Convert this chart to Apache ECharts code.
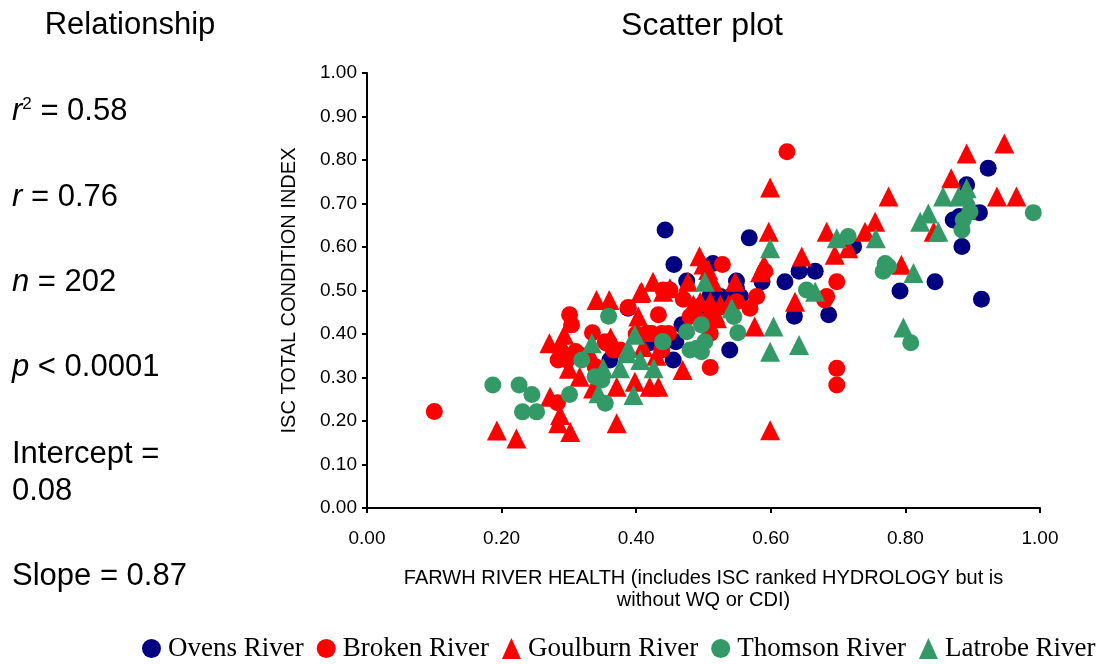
<!DOCTYPE html>
<html>
<head>
<meta charset="utf-8">
<script src="https://cdn.jsdelivr.net/npm/echarts@6/dist/echarts.min.js"></script>
<style>
html,body{margin:0;padding:0;background:#fff;}
#chart{width:1107px;height:664px;}
</style>
</head>
<body>
<div id="chart"></div>
<script>
const seriesNames = ["Ovens River", "Broken River", "Goulburn River", "Thomson River", "Latrobe River"];
const xTicks = ["0.00", "0.20", "0.40", "0.60", "0.80", "1.00"];
const yTicks = ["0.00", "0.10", "0.20", "0.30", "0.40", "0.50", "0.60", "0.70", "0.80", "0.90", "1.00"];

const ovens = [
  [0.443,0.639],[0.568,0.621],[0.456,0.560],[0.514,0.562],[0.475,0.522],[0.549,0.522],
  [0.587,0.520],[0.621,0.520],[0.642,0.544],[0.666,0.544],[0.525,0.486],[0.540,0.486],
  [0.555,0.486],[0.549,0.505],[0.923,0.781],[0.891,0.743],[0.910,0.679],[0.871,0.662],
  [0.884,0.601],[0.723,0.601],[0.844,0.520],[0.792,0.499],[0.913,0.480],[0.686,0.444],
  [0.635,0.441],[0.539,0.363],[0.388,0.459],[0.468,0.421],[0.455,0.340],[0.459,0.382],
  [0.361,0.340],[0.495,0.463],[0.510,0.490],[0.880,0.670],[0.500,0.420],[0.420,0.380]
];
const broken = [
  [0.100,0.222],[0.624,0.819],[0.528,0.560],[0.591,0.544],[0.698,0.520],[0.680,0.478],
  [0.683,0.486],[0.579,0.486],[0.440,0.501],[0.450,0.501],[0.698,0.321],[0.698,0.283],
  [0.510,0.323],[0.569,0.459],[0.480,0.440],[0.510,0.401],[0.433,0.444],[0.420,0.401],
  [0.438,0.363],[0.448,0.401],[0.388,0.461],[0.356,0.379],[0.366,0.363],[0.416,0.401],
  [0.549,0.474],[0.301,0.444],[0.304,0.421],[0.287,0.363],[0.284,0.340],[0.297,0.340],
  [0.283,0.242],[0.335,0.403],[0.354,0.382],[0.376,0.363],[0.339,0.325],[0.423,0.401],
  [0.438,0.401],[0.440,0.394],[0.360,0.380],[0.310,0.360],[0.320,0.350],[0.400,0.400],
  [0.470,0.480]
];
const goulburn = [
  [0.947,0.838],[0.891,0.815],[0.868,0.758],[0.775,0.716],[0.936,0.716],[0.965,0.716],
  [0.891,0.685],[0.842,0.635],[0.755,0.658],[0.740,0.635],[0.683,0.635],[0.715,0.597],
  [0.695,0.582],[0.794,0.559],[0.599,0.737],[0.597,0.635],[0.646,0.578],[0.494,0.579],
  [0.507,0.547],[0.477,0.520],[0.514,0.520],[0.547,0.520],[0.584,0.542],[0.408,0.497],
  [0.425,0.520],[0.599,0.179],[0.371,0.195],[0.576,0.417],[0.636,0.474],[0.469,0.317],
  [0.371,0.279],[0.420,0.279],[0.433,0.279],[0.398,0.290],[0.341,0.478],[0.360,0.478],
  [0.406,0.494],[0.450,0.505],[0.403,0.440],[0.193,0.178],[0.222,0.160],[0.272,0.256],
  [0.287,0.214],[0.284,0.195],[0.302,0.175],[0.271,0.379],[0.293,0.398],[0.316,0.302],
  [0.336,0.275],[0.485,0.467],[0.495,0.474],[0.510,0.474],[0.525,0.467],[0.537,0.467],
  [0.490,0.448],[0.517,0.448],[0.510,0.455],[0.520,0.436],[0.362,0.392],[0.410,0.370],
  [0.430,0.350],[0.300,0.320],[0.330,0.360],[0.500,0.560],[0.440,0.497],[0.590,0.560]
];
const thomson = [
  [0.990,0.679],[0.896,0.681],[0.886,0.662],[0.884,0.639],[0.715,0.624],[0.770,0.562],
  [0.767,0.544],[0.653,0.501],[0.808,0.380],[0.551,0.403],[0.545,0.440],[0.359,0.441],
  [0.440,0.382],[0.480,0.363],[0.497,0.359],[0.502,0.382],[0.497,0.421],[0.475,0.405],
  [0.354,0.241],[0.187,0.283],[0.226,0.283],[0.245,0.261],[0.231,0.221],[0.252,0.221],
  [0.301,0.261],[0.319,0.340],[0.339,0.302],[0.349,0.294],[0.439,0.382],[0.490,0.367],
  [0.775,0.555]
];
const latrobe = [
  [0.891,0.735],[0.856,0.716],[0.879,0.716],[0.822,0.658],[0.834,0.677],[0.849,0.635],
  [0.756,0.620],[0.698,0.620],[0.599,0.597],[0.502,0.520],[0.812,0.540],[0.797,0.415],
  [0.642,0.375],[0.599,0.359],[0.604,0.417],[0.542,0.459],[0.396,0.260],[0.388,0.367],
  [0.406,0.340],[0.426,0.321],[0.376,0.321],[0.351,0.321],[0.334,0.379],[0.386,0.356],
  [0.344,0.264],[0.398,0.398],[0.666,0.497],[0.890,0.720]
];

const seriesData = [ovens, broken, goulburn, thomson, latrobe];
const seriesColors = ["#000080", "#ff0000", "#ff0000", "#339966", "#339966"];
const seriesSymbols = ["circle", "circle", "triangle", "circle", "triangle"];

const chart = echarts.init(document.getElementById('chart'), null, {renderer: 'canvas'});
const sansFont = 'Liberation Sans, Arial, Helvetica, sans-serif';
const FS = 31;
const statStyle = {fontSize: FS, fontFamily: sansFont, fill: '#000'};
const ital = {fontStyle: 'italic', fontSize: FS, fontFamily: sansFont};

const option = {
  backgroundColor: '#fff',
  animation: false,
  title: [
    {text: 'Relationship', left: 125, top: 5, textAlign: 'center',
     textStyle: {fontSize: 31, fontWeight: 'normal', fontFamily: sansFont, color: '#000'}},
    {text: 'Scatter plot', left: 697, top: 5, textAlign: 'center',
     textStyle: {fontSize: 32, fontWeight: 'normal', fontFamily: sansFont, color: '#000'}}
  ],
  graphic: [
    {type: 'text', left: 12, top: 96, style: {
      text: '{i|r}{s|2} = 0.58', font: FS + 'px ' + sansFont, fill: '#000',
      rich: {i: ital, s: {fontSize: 17, fontFamily: sansFont, verticalAlign: 'top', padding: [0,0,12,0]}}}},
    {type: 'text', left: 12, top: 182, style: {
      text: '{i|r} = 0.76', font: FS + 'px ' + sansFont, fill: '#000', rich: {i: ital}}},
    {type: 'text', left: 12, top: 267, style: {
      text: '{i|n} = 202', font: FS + 'px ' + sansFont, fill: '#000', rich: {i: ital}}},
    {type: 'text', left: 12, top: 352, style: {
      text: '{i|p} < 0.0001', font: FS + 'px ' + sansFont, fill: '#000', rich: {i: ital}}},
    {type: 'text', left: 12, top: 436, style: Object.assign({text: 'Intercept =\n0.08', lineHeight: 37}, statStyle)},
    {type: 'text', left: 12, top: 561, style: Object.assign({text: 'Slope = 0.87'}, statStyle)}
  ],
  grid: {left: 367, right: 67, top: 73, bottom: 156, containLabel: false},
  xAxis: {
    type: 'value', min: 0, max: 1, interval: 0.2,
    name: 'FARWH RIVER HEALTH (includes ISC ranked HYDROLOGY but is\nwithout WQ or CDI)',
    nameLocation: 'middle', nameGap: 59,
    nameTextStyle: {fontSize: 20, fontFamily: sansFont, color: '#000', lineHeight: 22},
    axisLine: {lineStyle: {color: '#000', width: 2}},
    axisTick: {show: true, length: 5, lineStyle: {color: '#000', width: 2}},
    axisLabel: {fontSize: 19, fontFamily: sansFont, color: '#000', margin: 21,
      formatter: (v) => xTicks[Math.round(v / 0.2)]},
    splitLine: {show: false}
  },
  yAxis: {
    type: 'value', min: 0, max: 1, interval: 0.1,
    name: 'ISC TOTAL CONDITION INDEX',
    nameLocation: 'middle', nameGap: 68, nameRotate: 90,
    nameTextStyle: {fontSize: 20, fontFamily: sansFont, color: '#000'},
    axisLine: {lineStyle: {color: '#000', width: 2}},
    axisTick: {show: true, length: 5, lineStyle: {color: '#000', width: 2}},
    axisLabel: {fontSize: 19, fontFamily: sansFont, color: '#000', margin: 10,
      formatter: (v) => yTicks[Math.round(v / 0.1)]},
    splitLine: {show: false}
  },
  legend: {
    bottom: 2, left: 142, width: 965, padding: 0, itemGap: 13, itemWidth: 19, itemHeight: 21,
    textStyle: {fontSize: 27, fontFamily: 'Liberation Serif, Times New Roman, serif', color: '#000', padding: [0,0,0,2]},
    data: seriesNames.map((n, i) => ({name: n, icon: seriesSymbols[i]}))
  },
  series: seriesNames.map((n, i) => ({
    name: n, type: 'scatter', data: seriesData[i],
    symbol: seriesSymbols[i],
    symbolSize: seriesSymbols[i] === 'triangle' ? 20 : 17,
    itemStyle: {color: seriesColors[i], opacity: 1},
    emphasis: {disabled: true}
  }))
};
chart.setOption(option);
</script>
</body>
</html>
